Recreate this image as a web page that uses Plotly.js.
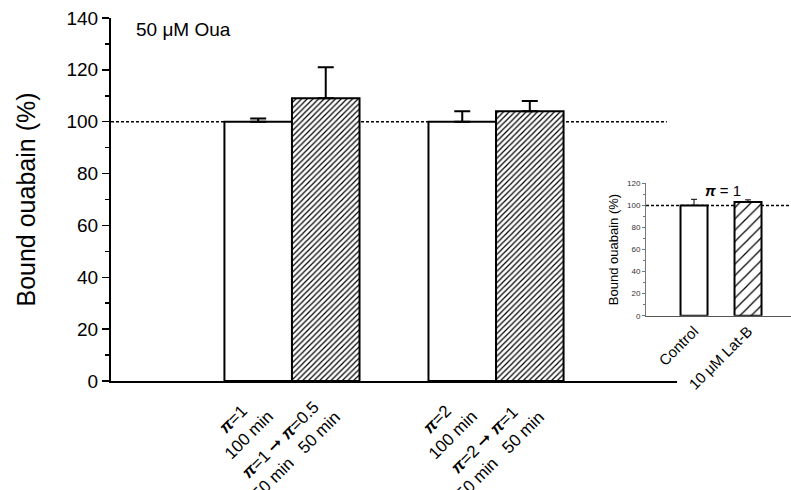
<!DOCTYPE html>
<html>
<head>
<meta charset="utf-8">
<script src="https://cdn.plot.ly/plotly-3.0.1.min.js"></script>
<style>html,body{margin:0;padding:0;background:#fff;}#chart{width:791px;height:490px;}</style>
</head>
<body>
<div id="chart"></div>
<script>
// ---- data ----
const groups = ['π=1', 'π=2'];
const constantValues = [100, 100];
const constantErrors = [1.2, 4];
const shiftValues = [109, 104];
const shiftErrors = [12, 4];
const constantLabels = ['<b><i>π</i></b>=1<br>100 min', '<b><i>π</i></b>=2<br>100 min'];
const shiftLabels = ['<b><i>π</i></b>=1 ➞ <b><i>π</i></b>=0.5<br>50 min   50 min', '<b><i>π</i></b>=2 ➞ <b><i>π</i></b>=1<br>50 min   50 min'];
const refLevel = 100;
const insetCategories = ['Control', '10 μM Lat-B'];
const insetValues = [100, 103];
const insetErrors = [5.5, 2];
const insetPatterns = ['', '/'];
const annotationText = '50 μM Oua';
const insetTitle = '<b><i>π</i></b> = 1';

// ---- layout constants ----
const font = 'Arial, "Liberation Sans", sans-serif';
const bargap = 0.338;
const half = (1 - bargap) / 4;

const traces = [
  {
    type: 'bar', x: groups, y: constantValues, xaxis: 'x', yaxis: 'y',
    marker: { color: 'white', line: { color: 'black', width: 2 } },
    error_y: { type: 'data', array: constantErrors, arrayminus: constantErrors.map(() => 0), symmetric: false, color: 'black', thickness: 2, width: 8 },
    showlegend: false, hoverinfo: 'none'
  },
  {
    type: 'bar', x: groups, y: shiftValues, xaxis: 'x', yaxis: 'y',
    marker: { color: 'white', line: { color: 'black', width: 2 },
      pattern: { shape: '/', fgcolor: 'black', bgcolor: 'white', size: 4, solidity: 0.3, fillmode: 'replace' } },
    error_y: { type: 'data', array: shiftErrors, arrayminus: shiftErrors.map(() => 0), symmetric: false, color: 'black', thickness: 2, width: 8 },
    showlegend: false, hoverinfo: 'none'
  },
  {
    type: 'bar', x: insetCategories, y: insetValues, xaxis: 'x2', yaxis: 'y2', width: 0.5,
    marker: { color: 'white', line: { color: 'black', width: 2 },
      pattern: { shape: insetPatterns, fgcolor: 'black', bgcolor: 'white', size: 8, solidity: 0.15, fillmode: 'replace' } },
    error_y: { type: 'data', array: insetErrors, arrayminus: insetErrors.map(() => 0), symmetric: false, color: 'black', thickness: 1, width: 3 },
    showlegend: false, hoverinfo: 'none'
  }
];

const annotations = [];
groups.forEach((g, i) => {
  [[constantLabels[i], i - half], [shiftLabels[i], i + half]].forEach(([txt, xv]) => {
    annotations.push({
      text: txt, x: xv, xref: 'x', y: 0.2224, yref: 'paper',
      xanchor: 'right', yanchor: 'top', textangle: -45, showarrow: false,
      xshift: 21, yshift: -8, font: { family: font, size: 17, color: 'black' }
    });
  });
});
annotations.push({
  text: annotationText, x: 0.1694, y: 0.9388, xref: 'paper', yref: 'paper',
  xanchor: 'left', yanchor: 'middle', showarrow: false, font: { family: font, size: 19, color: 'black' }
});
annotations.push({
  text: insetTitle, x: 0.914, y: 0.612, xref: 'paper', yref: 'paper',
  xanchor: 'center', yanchor: 'middle', showarrow: false, font: { family: font, size: 15, color: 'black' }
});

const layout = {
  width: 791, height: 490,
  margin: { l: 0, r: 0, t: 0, b: 0 },
  paper_bgcolor: 'white', plot_bgcolor: 'rgba(0,0,0,0)',
  barmode: 'group', bargap: bargap, bargroupgap: 0,
  font: { family: font, color: 'black' },
  xaxis: {
    domain: [0.1403, 0.8559], type: 'category', range: [-0.887, 1.887],
    showline: true, linecolor: 'black', linewidth: 2, showgrid: false, zeroline: false,
    ticks: '', showticklabels: false
  },
  yaxis: {
    domain: [0.2224, 0.9633], range: [0, 140], dtick: 20,
    showline: true, linecolor: 'black', linewidth: 2, showgrid: false, zeroline: false,
    ticks: 'outside', ticklen: 7, tickwidth: 1.5, tickcolor: 'black',
    minor: { dtick: 10, ticks: 'outside', ticklen: 4, tickwidth: 1.5, tickcolor: 'black', showgrid: false },
    tickfont: { family: font, size: 19, color: 'black' },
    title: { text: 'Bound ouabain (%)', font: { family: font, size: 25, color: 'black' }, standoff: 24 }
  },
  xaxis2: {
    domain: [0.8167, 1], type: 'category', range: [-0.889, 1.796], anchor: 'y2',
    showline: true, linecolor: '#555', linewidth: 1, showgrid: false, zeroline: false,
    ticks: '', tickangle: -45, tickfont: { family: font, size: 15, color: 'black' }
  },
  yaxis2: {
    domain: [0.3557, 0.6259], range: [0, 120], dtick: 20, anchor: 'x2',
    showline: true, linecolor: '#777', linewidth: 1, showgrid: false, zeroline: false,
    ticks: 'outside', ticklen: 3, tickwidth: 1, tickcolor: '#777',
    minor: { dtick: 10, ticks: 'outside', ticklen: 2, tickwidth: 1, tickcolor: '#777', showgrid: false },
    tickfont: { family: font, size: 8, color: '#333' },
    title: { text: 'Bound ouabain (%)', font: { family: font, size: 13, color: 'black' }, standoff: 5 }
  },
  shapes: [
    { type: 'line', xref: 'x domain', yref: 'y', x0: 0, x1: 0.982, y0: refLevel, y1: refLevel,
      line: { color: 'black', width: 1.5, dash: '3px,2px' }, layer: 'below' },
    { type: 'line', xref: 'x2 domain', yref: 'y2', x0: 0, x1: 1, y0: refLevel, y1: refLevel,
      line: { color: 'black', width: 1.5, dash: '3px,2px' }, layer: 'below' }
  ],
  annotations: annotations
};

Plotly.newPlot('chart', traces, layout, { staticPlot: true, displayModeBar: false });
</script>
</body>
</html>
